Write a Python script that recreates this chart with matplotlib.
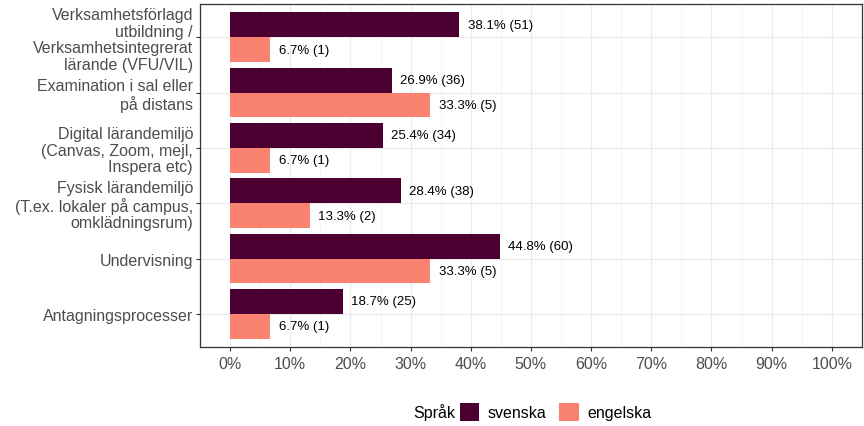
import matplotlib
matplotlib.use("Agg")
import matplotlib.pyplot as plt
from matplotlib.patches import Patch
import numpy as np

categories = [
    "Verksamhetsförlagd\nutbildning /\nVerksamhetsintegrerat\nlärande (VFU/VIL)",
    "Examination i sal eller\npå distans",
    "Digital lärandemiljö\n(Canvas, Zoom, mejl,\nInspera etc)",
    "Fysisk lärandemiljö\n(T.ex. lokaler på campus,\nomklädningsrum)",
    "Undervisning",
    "Antagningsprocesser",
]
svenska_pct = [38.1, 26.9, 25.4, 28.4, 44.8, 18.7]
svenska_n = [51, 36, 34, 38, 60, 25]
engelska_pct = [6.7, 33.3, 6.7, 13.3, 33.3, 6.7]
engelska_n = [1, 5, 1, 2, 5, 1]
series_names = ["svenska", "engelska"]
legend_title = "Språk"
colors = ["#4B0031", "#FA8270"]
xticks = list(range(0, 101, 10))

plt.rcParams['font.family'] = ['Liberation Sans', 'DejaVu Sans']

fig = plt.figure(figsize=(8.64, 4.27), dpi=100)
ax = fig.add_axes([0.2315, 0.185, 0.766, 0.803])

n = len(categories)
ypos = np.arange(n)[::-1]
h = 0.45

ax.set_xlim(-5, 105)
ax.set_ylim(-0.6, n - 1 + 0.6)

ax.set_xticks(xticks)
ax.set_xticks(np.arange(5, 100, 10), minor=True)
ax.set_xticklabels([f"{t}%" for t in xticks])
ax.set_yticks(ypos)
ax.set_yticklabels(categories)

ax.grid(True, which='major', axis='both', color='#EBEBEB', linewidth=0.9, zorder=0)
ax.grid(True, which='minor', axis='x', color='#F4F4F4', linewidth=0.6, zorder=0)
ax.set_axisbelow(True)

for vals, ns, off, col in [(svenska_pct, svenska_n, h / 2, colors[0]),
                            (engelska_pct, engelska_n, -h / 2, colors[1])]:
    ax.barh(ypos + off, vals, height=h, color=col, zorder=2)
    for y, v, c in zip(ypos + off, vals, ns):
        ax.annotate(f"{v}% ({c})", xy=(v, y), xytext=(6, 0), textcoords='offset points',
                    ha='left', va='center', fontsize=9.5, color='black')

for s in ax.spines.values():
    s.set_color('#333333')
    s.set_linewidth(0.9)
ax.tick_params(axis='both', which='major', length=3, color='#333333',
               labelcolor='#4D4D4D', labelsize=11.5)
ax.tick_params(axis='x', which='minor', length=0)
ax.tick_params(axis='y', pad=2)
for lbl in ax.get_yticklabels():
    lbl.set_linespacing(1.12)

fig.text(413 / 864, 1 - 413 / 427, legend_title, ha='left', va='center', fontsize=11.5,
         color='black')
handles = [Patch(facecolor=c, edgecolor='none') for c in colors]
fig.legend(handles, series_names, loc='center left', bbox_to_anchor=(460 / 864, 1 - 413 / 427),
           ncol=2, frameon=False, fontsize=11.5, borderpad=0, borderaxespad=0,
           handlelength=1.2, handleheight=1.3, handletextpad=0.55, columnspacing=0.8)

fig.savefig("out.png", dpi=100)
